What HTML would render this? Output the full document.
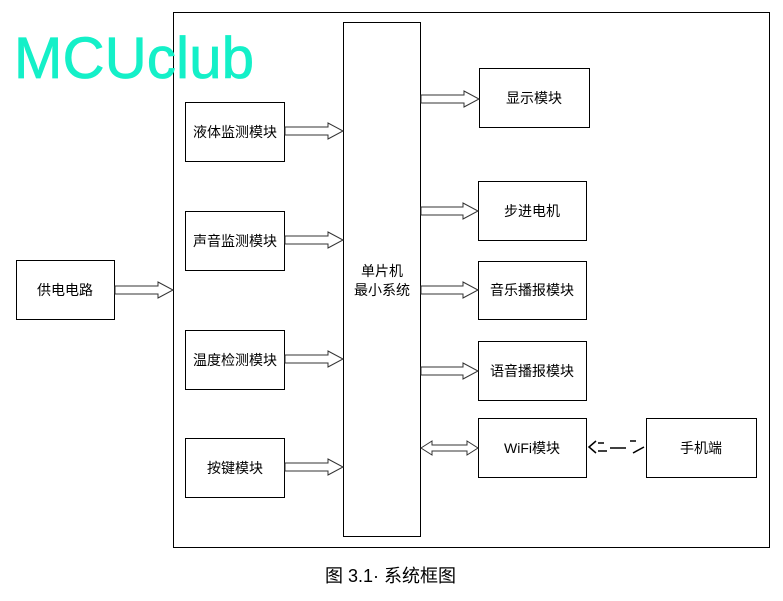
<!DOCTYPE html>
<html><head><meta charset="utf-8"><style>
html,body{margin:0;padding:0;background:#fff;width:783px;height:601px;overflow:hidden}
svg{display:block}
text{font-family:"Liberation Sans","Noto Sans CJK SC",sans-serif;fill:#000}
</style></head><body>
<svg width="783" height="601" viewBox="0 0 783 601" xmlns="http://www.w3.org/2000/svg">
<g fill="#fff" stroke="#000" stroke-width="1">
<rect x="173.5" y="12.5" width="596" height="535"/>
<rect x="343.5" y="22.5" width="77" height="514"/>
<rect x="185.5" y="102.5" width="99" height="59"/>
<rect x="185.5" y="211.5" width="99" height="59"/>
<rect x="185.5" y="330.5" width="99" height="59"/>
<rect x="185.5" y="438.5" width="99" height="59"/>
<rect x="16.5" y="260.5" width="98" height="59"/>
<rect x="479.5" y="68.5" width="110" height="59"/>
<rect x="478.5" y="181.5" width="108" height="59"/>
<rect x="478.5" y="261.5" width="108" height="58"/>
<rect x="478.5" y="341.5" width="108" height="59"/>
<rect x="478.5" y="418.5" width="108" height="59"/>
<rect x="646.5" y="418.5" width="110" height="59"/>
</g>
<g fill="#fff" stroke="#333" stroke-width="1">
<polygon points="285,127 328,127 328,123 343,131 328,139 328,135 285,135"/>
<polygon points="285,236 328,236 328,232 343,240 328,248 328,244 285,244"/>
<polygon points="285,355 328,355 328,351 343,359 328,367 328,363 285,363"/>
<polygon points="285,463 328,463 328,459 343,467 328,475 328,471 285,471"/>
<polygon points="115,286 158,286 158,282 173,290 158,298 158,294 115,294"/>
<polygon points="421,95 464,95 464,91 479,99 464,107 464,103 421,103"/>
<polygon points="421,207 463,207 463,203 478,211 463,219 463,215 421,215"/>
<polygon points="421,286 463,286 463,282 478,290 463,298 463,294 421,294"/>
<polygon points="421,367 463,367 463,363 478,371 463,379 463,375 421,375"/>
<polygon points="421,448 432,441 432,445 467,445 467,441 478,448 467,455 467,451 432,451 432,455"/>
</g>
<g fill="none" stroke="#000" stroke-width="1.5">
<polyline points="596,441 589,447 596,453"/>
<line x1="598" y1="451" x2="607" y2="451"/>
<line x1="598" y1="443" x2="604" y2="443"/>
<line x1="610" y1="448" x2="626" y2="448"/>
<line x1="630" y1="441" x2="636" y2="441"/>
<polyline points="633,453 644,447"/>
</g>
<text x="14" y="78" font-size="58" style="fill:#14f0c8;stroke:#14f0c8;stroke-width:0.8" textLength="240" lengthAdjust="spacing">MCUclub</text>
<g font-size="14" text-anchor="middle" style="fill:#222">
<text x="235" y="137">液体监测模块</text>
<text x="235" y="246">声音监测模块</text>
<text x="235" y="365">温度检测模块</text>
<text x="235" y="473">按键模块</text>
<text x="65" y="295">供电电路</text>
<text x="382" y="276">单片机</text>
<text x="382" y="295">最小系统</text>
<text x="534" y="103">显示模块</text>
<text x="532" y="216">步进电机</text>
<text x="532" y="295">音乐播报模块</text>
<text x="532" y="376">语音播报模块</text>
<text x="532" y="453">WiFi模块</text>
<text x="701" y="453">手机端</text>
</g>
<text x="325" y="582" font-size="18">图 3.1· 系统框图</text>
</svg>
</body></html>
